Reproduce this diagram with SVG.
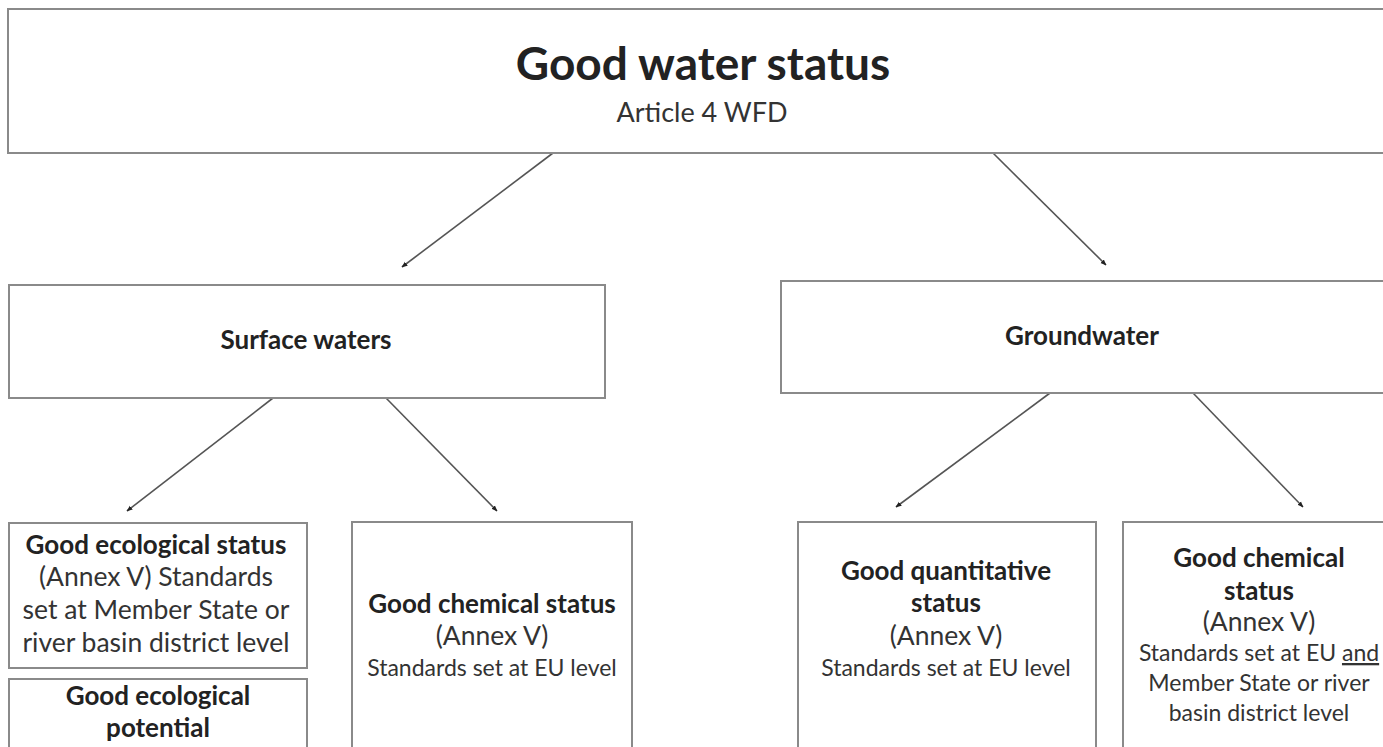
<svg xmlns="http://www.w3.org/2000/svg" width="1383" height="747" viewBox="0 0 1383 747">
<style>
.box{fill:#fff;stroke:#8a8a8a;stroke-width:2}
text{font-family:Lato,"Open Sans","Liberation Sans",sans-serif;fill:#222;text-anchor:middle}
.b{font-weight:bold}
.t1{font-size:46px}
.t2{font-size:27px;fill:#333}
.m{font-size:26px}
.r{font-size:26.5px;fill:#333}
.s{font-size:23px;fill:#333}
.conn{stroke:#555;stroke-width:1.6;fill:none;marker-end:url(#ah)}
</style>
<defs>
<marker id="ah" viewBox="0 0 10 10" refX="9" refY="5" markerWidth="6" markerHeight="6" orient="auto" markerUnits="userSpaceOnUse">
<path d="M0,1 L10,5 L0,9 z" fill="#222"/>
</marker>
</defs>
<rect width="1383" height="747" fill="#fff"/>
<g id="connectors">
<line class="conn" x1="553" y1="153" x2="402" y2="267"/>
<line class="conn" x1="993" y1="153" x2="1106" y2="265"/>
<line class="conn" x1="273" y1="398" x2="127" y2="511"/>
<line class="conn" x1="386" y1="398" x2="497" y2="511"/>
<line class="conn" x1="1050" y1="393" x2="896" y2="507"/>
<line class="conn" x1="1193" y1="393" x2="1303" y2="507"/>
</g>
<g id="top">
<rect class="box" x="8" y="9" width="1390" height="144"/>
<text class="b t1" x="703" y="80">Good water status</text>
<text class="t2" x="702" y="122">Article 4 WFD</text>
</g>
<g id="surface">
<rect class="box" x="9" y="285" width="596" height="113"/>
<text class="b m" x="306" y="349">Surface waters</text>
</g>
<g id="groundwater">
<rect class="box" x="781" y="281" width="610" height="112"/>
<text class="b m" x="1082" y="345">Groundwater</text>
</g>
<g id="eco-status">
<rect class="box" x="9" y="523" width="298" height="145"/>
<text class="b m" x="156" y="554">Good ecological status</text>
<text class="r" x="156" y="586">(Annex V) Standards</text>
<text class="r" x="156" y="619">set at Member State or</text>
<text class="r" x="156" y="652">river basin district level</text>
</g>
<g id="eco-potential">
<rect class="box" x="9" y="679" width="298" height="80"/>
<text class="b m" x="158" y="705">Good ecological</text>
<text class="b m" x="158" y="737">potential</text>
</g>
<g id="sw-chemical">
<rect class="box" x="352" y="522" width="280" height="240"/>
<text class="b m" x="492" y="613">Good chemical status</text>
<text class="r" x="492" y="645">(Annex V)</text>
<text class="s" x="492" y="676">Standards set at EU level</text>
</g>
<g id="gw-quantitative">
<rect class="box" x="798" y="522" width="298" height="240"/>
<text class="b m" x="946" y="580">Good quantitative</text>
<text class="b m" x="946" y="612">status</text>
<text class="r" x="946" y="645">(Annex V)</text>
<text class="s" x="946" y="676">Standards set at EU level</text>
</g>
<g id="gw-chemical">
<rect class="box" x="1123" y="522" width="280" height="240"/>
<text class="b m" x="1259" y="567">Good chemical</text>
<text class="b m" x="1259" y="600">status</text>
<text class="r" x="1259" y="631">(Annex V)</text>
<text class="s" x="1259" y="661">Standards set at EU <tspan text-decoration="underline">and</tspan></text>
<text class="s" x="1259" y="691">Member State or river</text>
<text class="s" x="1259" y="721">basin district level</text>
</g>
</svg>
